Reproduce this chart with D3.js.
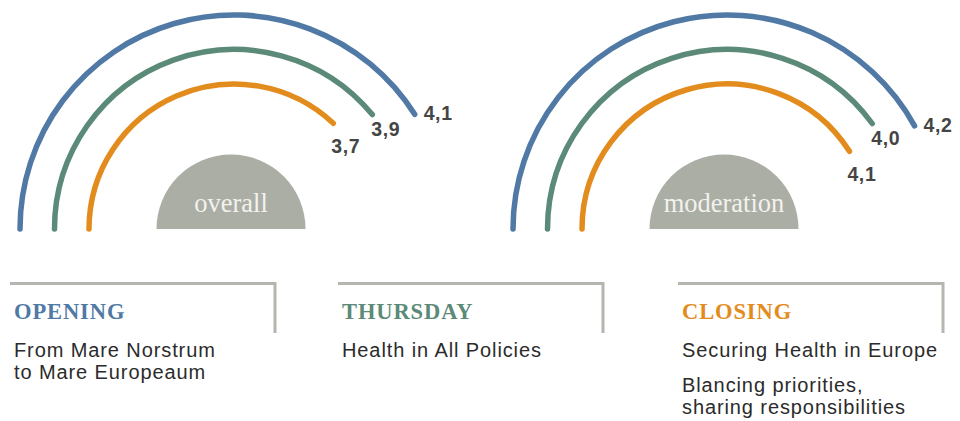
<!DOCTYPE html>
<html>
<head>
<meta charset="utf-8">
<script src="https://cdn.jsdelivr.net/npm/d3@7"></script>
<style>
  body { margin: 0; background: #fff; }
  svg { display: block; }
</style>
</head>
<body>
<div id="chart"></div>
<script>
// data
var panelNames = ["overall", "moderation"];
var sessionNames = ["OPENING", "THURSDAY", "CLOSING"];
var overallScores = [4.1, 3.9, 3.7];
var moderationScores = [4.2, 4.0, 4.1];
var scoreMax = 5;
var sessionTopics = [
  [["From Mare Norstrum", "to Mare Europeaum"]],
  [["Health in All Policies"]],
  [["Securing Health in Europe"], ["Blancing priorities,", "sharing responsibilities"]]
];

// styling
var sessionColors = ["#5079a5", "#5b8a78", "#e38c1e"];
var width = 960, height = 421;
var cy = 229;
var boxX = [10, 338, 678];   // left edge of each caption box
var boxW = 265;
// label nudges per ring (outer ring to the right, inner ones below the end)
var labelNudge = [[9, 6], [-1, 21], [-2, 30]];

var locale = d3.formatLocale({decimal: ",", thousands: ".", grouping: [3], currency: ["", ""]});
var fmt = locale.format(".1f");

var svg = d3.select("#chart").append("svg")
  .attr("width", width).attr("height", height);

var gaugeX = d3.scaleLinear().domain([0, 1]).range([234, 727]);
var angle = d3.scaleLinear().domain([0, scoreMax]).range([-Math.PI / 2, Math.PI / 2]);
var radius = d3.scaleLinear().domain([0, 2]).range([214, 145]);

var panels = panelNames.map(function(name, i) {
  return {name: name, scores: i == 0 ? overallScores : moderationScores};
});

var g = svg.selectAll(".gauge")
  .data(panels)
  .enter().append("g")
  .attr("class", "gauge")
  .attr("transform", function(d, i) { return "translate(" + gaugeX(i) + "," + cy + ")"; });

// grey hub
g.append("path")
  .attr("transform", "translate(-3,0)")
  .attr("d", d3.arc()({innerRadius: 0, outerRadius: 74.5, startAngle: -Math.PI / 2, endAngle: Math.PI / 2}))
  .attr("fill", "#abaea5");

g.append("text")
  .attr("x", -3).attr("y", -17)
  .attr("text-anchor", "middle")
  .attr("font-family", "Liberation Serif, serif")
  .attr("font-size", 26.5)
  .attr("fill", "#f2f2ee")
  .text(function(d) { return d.name; });

var rings = g.selectAll(".ring")
  .data(function(d) { return d.scores.map(function(v, k) { return {v: v, k: k}; }); })
  .enter().append("g").attr("class", "ring");

rings.append("path")
  .attr("d", function(d) {
    var r = radius(d.k);
    return d3.arc()({innerRadius: r, outerRadius: r, startAngle: angle(0), endAngle: angle(d.v)});
  })
  .attr("fill", "none")
  .attr("stroke", function(d) { return sessionColors[d.k]; })
  .attr("stroke-width", 5.5)
  .attr("stroke-linecap", "round")
  .attr("stroke-linejoin", "round");

rings.append("text")
  .attr("x", function(d) { return radius(d.k) * Math.sin(angle(d.v)) + labelNudge[d.k][0]; })
  .attr("y", function(d) { return -radius(d.k) * Math.cos(angle(d.v)) + labelNudge[d.k][1]; })
  .attr("font-family", "Liberation Sans, Arial, sans-serif")
  .attr("font-weight", "bold")
  .attr("font-size", 19.5)
  .attr("letter-spacing", 0.6)
  .attr("fill", "#454545")
  .text(function(d) { return fmt(d.v); });

// caption boxes
var box = svg.selectAll(".box")
  .data(sessionNames)
  .enter().append("g")
  .attr("class", "box")
  .attr("transform", function(d, i) { return "translate(" + boxX[i] + ",0)"; });

box.append("path")
  .attr("d", "M0,283.5H" + boxW + "V333")
  .attr("fill", "none")
  .attr("stroke", "#b4b6af")
  .attr("stroke-width", 3);

box.append("text")
  .attr("x", 4).attr("y", 319)
  .attr("font-family", "Liberation Serif, serif")
  .attr("font-weight", "bold")
  .attr("font-size", 22.5)
  .attr("letter-spacing", 0.9)
  .attr("fill", function(d, i) { return sessionColors[i]; })
  .text(function(d) { return d; });

box.each(function(d, i) {
  var y = 357;
  var sel = d3.select(this);
  sessionTopics[i].forEach(function(par) {
    par.forEach(function(line) {
      sel.append("text")
        .attr("x", 4).attr("y", y)
        .attr("font-family", "Liberation Sans, Arial, sans-serif")
        .attr("font-size", 20)
        .attr("letter-spacing", 0.9)
        .attr("fill", "#2b2b2b")
        .text(line);
      y += 21.5;
    });
    y += 13.5;
  });
});
</script>
</body>
</html>
